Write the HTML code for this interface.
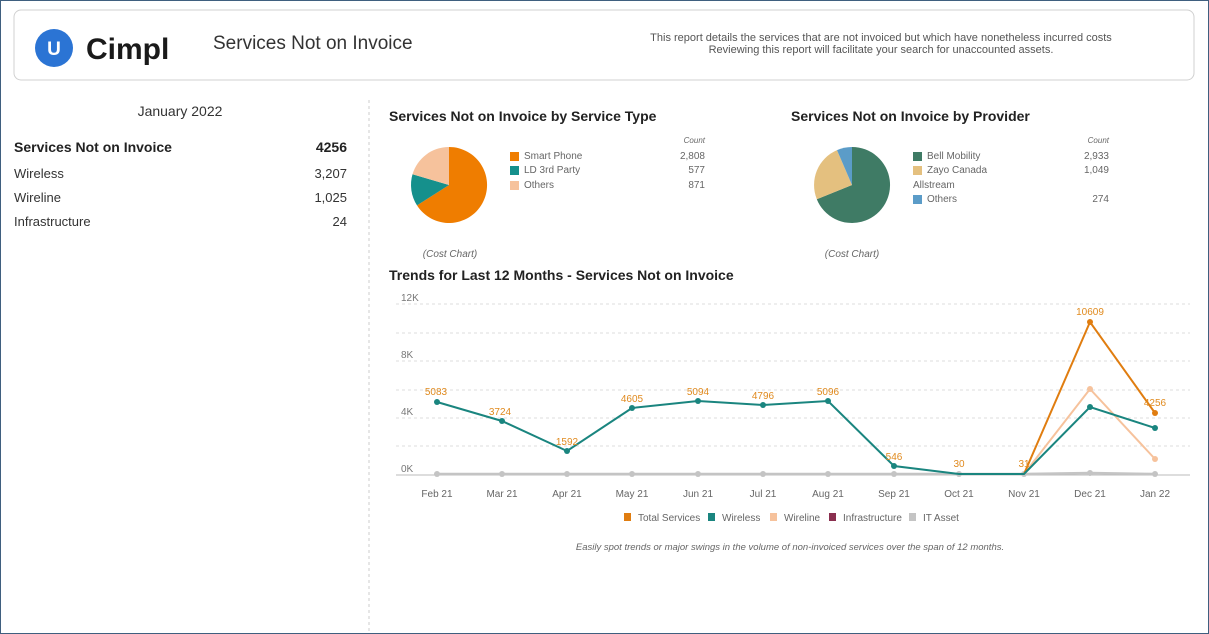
<!DOCTYPE html>
<html><head><meta charset="utf-8"><style>
html,body{margin:0;padding:0;background:#fff;}
svg{display:block;font-family:"Liberation Sans",sans-serif;}
</style></head><body>
<svg width="1209" height="634" viewBox="0 0 1209 634" xmlns="http://www.w3.org/2000/svg">
<rect x="0.5" y="0.5" width="1208" height="633" fill="#fff" stroke="#3f5f7f"/>
<rect x="14" y="10" width="1180" height="70" rx="7" fill="#fff" stroke="#d0d0d0"/>
<circle cx="54" cy="48" r="19" fill="#2b74d4"/>
<text x="54" y="55" font-size="19" font-weight="bold" fill="#fff" text-anchor="middle">U</text>
<text x="86" y="59" font-size="30" font-weight="bold" fill="#1a1a1a">Cimpl</text>
<text x="213" y="49" font-size="19" fill="#333">Services Not on Invoice</text>
<text x="881" y="41" font-size="11" fill="#555" text-anchor="middle">This report details the services that are not invoiced but which have nonetheless incurred costs</text>
<text x="881" y="53" font-size="11" fill="#555" text-anchor="middle">Reviewing this report will facilitate your search for unaccounted assets.</text>
<line x1="369" y1="100" x2="369" y2="634" stroke="#ccc" stroke-dasharray="3,3"/>
<text x="180" y="116" font-size="14" fill="#333" text-anchor="middle">January 2022</text>
<text x="14" y="152" font-size="14" font-weight="bold" fill="#222">Services Not on Invoice</text>
<text x="347" y="152" font-size="14" font-weight="bold" fill="#222" text-anchor="end">4256</text>
<g font-size="13" fill="#333">
<text x="14" y="178">Wireless</text><text x="347" y="178" text-anchor="end">3,207</text>
<text x="14" y="202">Wireline</text><text x="347" y="202" text-anchor="end">1,025</text>
<text x="14" y="226">Infrastructure</text><text x="347" y="226" text-anchor="end">24</text>
</g>
<text x="389" y="121" font-size="14" font-weight="bold" fill="#222">Services Not on Invoice by Service Type</text>
<text x="791" y="121" font-size="14" font-weight="bold" fill="#222">Services Not on Invoice by Provider</text>
<!-- pie 1 -->
<path d="M449,185 L449,147 A38,38 0 1,1 417,205.4 Z" fill="#ef7d00"/>
<path d="M449,185 L417,205.4 A38,38 0 0,1 412.5,174.3 Z" fill="#15908c"/>
<path d="M449,185 L412.5,174.3 A38,38 0 0,1 449,147 Z" fill="#f6c29c"/>
<g font-size="10" fill="#666">
<text x="705" y="143" font-size="8" font-style="italic" text-anchor="end">Count</text>
<rect x="510" y="152" width="9" height="9" fill="#ef7d00"/><text x="524" y="159">Smart Phone</text><text x="705" y="159" text-anchor="end">2,808</text>
<rect x="510" y="166" width="9" height="9" fill="#15908c"/><text x="524" y="173">LD 3rd Party</text><text x="705" y="173" text-anchor="end">577</text>
<rect x="510" y="181" width="9" height="9" fill="#f6c29c"/><text x="524" y="188">Others</text><text x="705" y="188" text-anchor="end">871</text>
<text x="450" y="257" font-style="italic" text-anchor="middle">(Cost Chart)</text>
</g>
<!-- pie 2 -->
<path d="M852,185 L852,147 A38,38 0 1,1 816.8,199.2 Z" fill="#3f7b65"/>
<path d="M852,185 L816.8,199.2 A38,38 0 0,1 837,150.1 Z" fill="#e4c07f"/>
<path d="M852,185 L837,150.1 A38,38 0 0,1 852,147 Z" fill="#5b9cc8"/>
<g font-size="10" fill="#666">
<text x="1109" y="143" font-size="8" font-style="italic" text-anchor="end">Count</text>
<rect x="913" y="152" width="9" height="9" fill="#3f7b65"/><text x="927" y="159">Bell Mobility</text><text x="1109" y="159" text-anchor="end">2,933</text>
<rect x="913" y="166" width="9" height="9" fill="#e4c07f"/><text x="927" y="173">Zayo Canada</text><text x="1109" y="173" text-anchor="end">1,049</text>
<text x="913" y="188">Allstream</text>
<rect x="913" y="195" width="9" height="9" fill="#5b9cc8"/><text x="927" y="202">Others</text><text x="1109" y="202" text-anchor="end">274</text>
<text x="852" y="257" font-style="italic" text-anchor="middle">(Cost Chart)</text>
</g>
<text x="389" y="280" font-size="14" font-weight="bold" fill="#222">Trends for Last 12 Months - Services Not on Invoice</text>
<!-- grid -->
<g stroke="#ddd" stroke-dasharray="3,3">
<line x1="396" y1="304" x2="1190" y2="304"/><line x1="396" y1="333" x2="1190" y2="333"/>
<line x1="396" y1="361" x2="1190" y2="361"/><line x1="396" y1="390" x2="1190" y2="390"/>
<line x1="396" y1="418" x2="1190" y2="418"/><line x1="396" y1="446" x2="1190" y2="446"/>
</g>
<line x1="396" y1="475" x2="1190" y2="475" stroke="#bbb"/>
<g font-size="10" fill="#777">
<text x="401" y="301">12K</text><text x="401" y="358">8K</text><text x="401" y="415">4K</text><text x="401" y="472">0K</text>
</g>
<g font-size="10" fill="#666" text-anchor="middle">
<text x="437" y="497">Feb 21</text><text x="502" y="497">Mar 21</text><text x="567" y="497">Apr 21</text><text x="632" y="497">May 21</text><text x="698" y="497">Jun 21</text><text x="763" y="497">Jul 21</text><text x="828" y="497">Aug 21</text><text x="894" y="497">Sep 21</text><text x="959" y="497">Oct 21</text><text x="1024" y="497">Nov 21</text><text x="1090" y="497">Dec 21</text><text x="1155" y="497">Jan 22</text>
</g>
<!-- series -->
<polyline points="437,474 502,474 567,474 632,474 698,474 763,474 828,474 894,474 959,474 1024,474 1090,473 1155,474" fill="none" stroke="#c4c4c4" stroke-width="2.5"/>
<g fill="#c4c4c4"><circle cx="437" cy="474" r="3"/><circle cx="502" cy="474" r="3"/><circle cx="567" cy="474" r="3"/><circle cx="632" cy="474" r="3"/><circle cx="698" cy="474" r="3"/><circle cx="763" cy="474" r="3"/><circle cx="828" cy="474" r="3"/><circle cx="894" cy="474" r="3"/><circle cx="959" cy="474" r="3"/><circle cx="1024" cy="474" r="3"/><circle cx="1090" cy="473" r="3"/><circle cx="1155" cy="474" r="3"/></g>
<polyline points="959,474 1024,474 1090,389 1155,459" fill="none" stroke="#f6c29c" stroke-width="2"/>
<circle cx="1090" cy="389" r="3" fill="#f6c29c"/><circle cx="1155" cy="459" r="3" fill="#f6c29c"/>
<polyline points="1024,474 1090,322 1155,413" fill="none" stroke="#e07d10" stroke-width="2"/>
<circle cx="1090" cy="322" r="3" fill="#e07d10"/><circle cx="1155" cy="413" r="3" fill="#e07d10"/>
<polyline points="437,402 502,421 567,451 632,408 698,401 763,405 828,401 894,466 959,474 1024,474 1090,407 1155,428" fill="none" stroke="#1a857f" stroke-width="2"/>
<g fill="#1a857f"><circle cx="437" cy="402" r="3"/><circle cx="502" cy="421" r="3"/><circle cx="567" cy="451" r="3"/><circle cx="632" cy="408" r="3"/><circle cx="698" cy="401" r="3"/><circle cx="763" cy="405" r="3"/><circle cx="828" cy="401" r="3"/><circle cx="894" cy="466" r="3"/><circle cx="1090" cy="407" r="3"/><circle cx="1155" cy="428" r="3"/></g>
<g font-size="10" fill="#e08a1e" text-anchor="middle">
<text x="436" y="395">5083</text><text x="500" y="415">3724</text><text x="567" y="445">1592</text><text x="632" y="402">4605</text><text x="698" y="395">5094</text><text x="763" y="399">4796</text><text x="828" y="395">5096</text><text x="894" y="460">546</text><text x="959" y="467">30</text><text x="1024" y="467">31</text><text x="1090" y="315">10609</text><text x="1155" y="406">4256</text>
</g>
<g font-size="10" fill="#666">
<rect x="624" y="513" width="7" height="8" fill="#e07d10"/><text x="638" y="521">Total Services</text>
<rect x="708" y="513" width="7" height="8" fill="#1a857f"/><text x="722" y="521">Wireless</text>
<rect x="770" y="513" width="7" height="8" fill="#f6c29c"/><text x="784" y="521">Wireline</text>
<rect x="829" y="513" width="7" height="8" fill="#8a2f4f"/><text x="843" y="521">Infrastructure</text>
<rect x="909" y="513" width="7" height="8" fill="#c4c4c4"/><text x="923" y="521">IT Asset</text>
</g>
<text x="790" y="550" font-size="9.5" font-style="italic" fill="#666" text-anchor="middle">Easily spot trends or major swings in the volume of non-invoiced services over the span of 12 months.</text>
</svg>
</body></html>
